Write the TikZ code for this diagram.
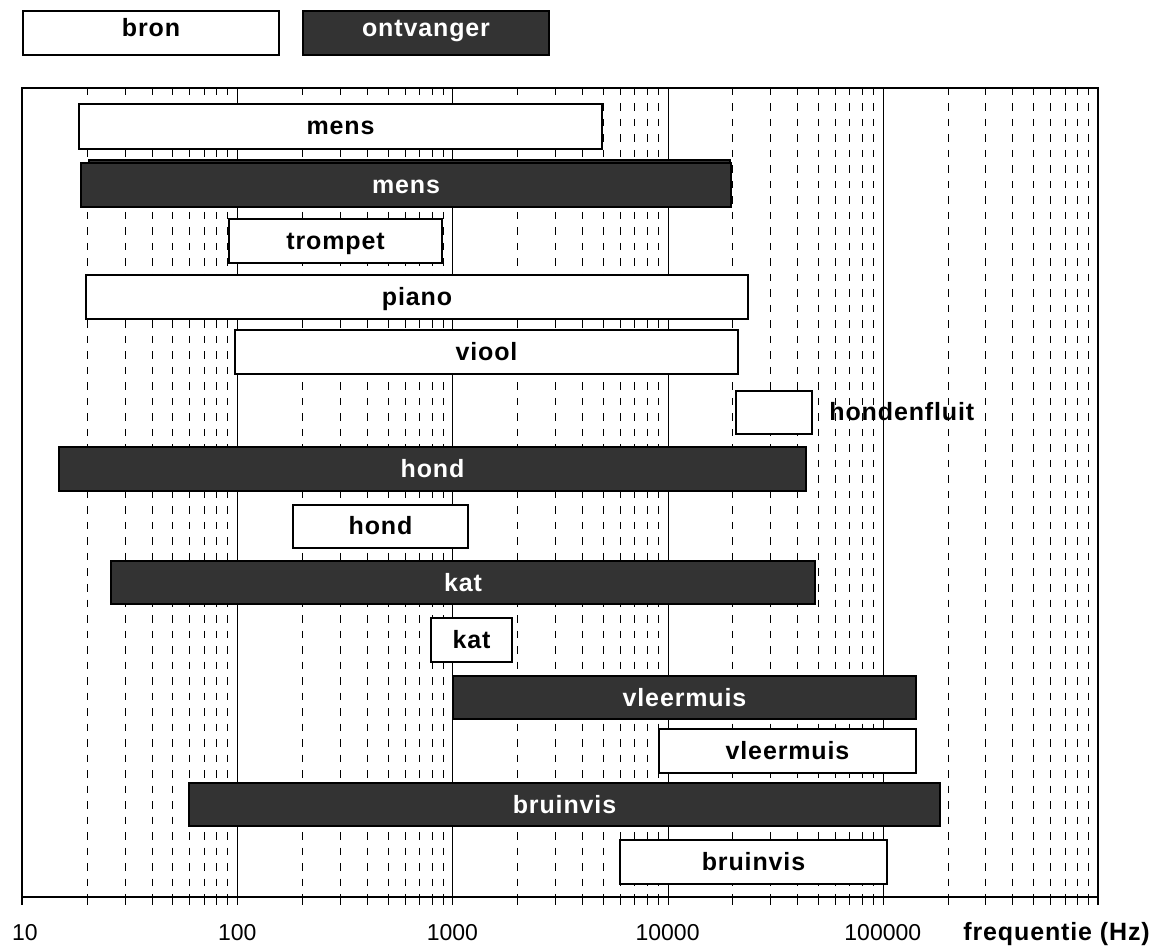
\documentclass[tikz,border=0pt]{standalone}
\usepackage{fontspec}
\setmainfont{Liberation Sans}
\newfontfamily\lblfont{Liberation Sans}[LetterSpace=3.5]
\definecolor{darkbar}{HTML}{333333}
\begin{document}
\begin{tikzpicture}[x=0.5pt,y=-0.5pt,
  bronbar/.style={draw=black,line width=0.65pt,fill=white},
  ontbar/.style={draw=black,line width=0.8pt,fill=darkbar},
  lbl/.style={font=\fontsize{12.5}{14}\lblfont\bfseries,anchor=base,inner sep=0pt},
  wlbl/.style={lbl,text=white},
  axlbl/.style={font=\fontsize{11.5}{13}\selectfont,anchor=base,inner sep=0pt},
  gridline/.style={line width=0.6pt,dash pattern=on 3.75pt off 4pt},
  decline/.style={line width=0.5pt},
  tickline/.style={line width=0.6pt},
  frameline/.style={line width=1pt}]
\useasboundingbox (0,0) rectangle (1158,952);
% grid
\foreach \d in {0,...,4} {
  \foreach \k in {2,...,9} {
    \pgfmathsetmacro\xx{round(22+215.2*(\d+log10(\k)))+0.5}
    \draw[gridline] (\xx,88) -- (\xx,897);
    \draw[tickline] (\xx,897) -- (\xx,905);
  }
}
\foreach \d in {1,...,4} {
  \pgfmathsetmacro\xx{round(22+215.2*\d)+0.5}
  \draw[decline] (\xx,88) -- (\xx,905);
}
\draw[tickline] (22,897) -- (22,905);
\draw[tickline] (1098,897) -- (1098,905);
% legend
\draw[bronbar,line width=0.6pt] (23,11) rectangle (279,55);
\node[lbl] (legbron) at (151,37) {bron};
\draw[ontbar,line width=0.6pt] (303,11) rectangle (549,55);
\node[wlbl] (legont) at (426,37) {ontvanger};
% bars
\draw[bronbar] (79,104) rectangle (602,149);
\node[lbl] (mensB) at (340.5,135) {mens};
\draw[ontbar,line width=0.6pt] (89,160) rectangle (730,204);
\draw[ontbar] (81,163) rectangle (731,207);
\node[wlbl] (mensO) at (406,193.5) {mens};
\draw[bronbar] (229,219) rectangle (442,263);
\node[lbl] (trompet) at (335.5,249.5) {trompet};
\draw[bronbar] (86,275) rectangle (748,319);
\node[lbl] (piano) at (417,305.5) {piano};
\draw[bronbar] (235,330) rectangle (738,374);
\node[lbl] (viool) at (486.5,360.5) {viool};
\draw[bronbar] (736,391) rectangle (812,434);
\node[lbl,anchor=base west] (fluit) at (829,421) {hondenfluit};
\draw[ontbar] (59,447) rectangle (806,491);
\node[wlbl] (hondO) at (432.5,477.5) {hond};
\draw[bronbar] (293,505) rectangle (468,548);
\node[lbl] (hondB) at (380.5,535) {hond};
\draw[ontbar] (111,561) rectangle (815,604);
\node[wlbl] (katO) at (463,591) {kat};
\draw[bronbar] (431,618) rectangle (512,662);
\node[lbl] (katB) at (471.5,648.5) {kat};
\draw[ontbar] (453,676) rectangle (916,719);
\node[wlbl] (vleerO) at (684.5,706) {vleermuis};
\draw[bronbar] (659,729) rectangle (916,773);
\node[lbl] (vleerB) at (787.5,759.5) {vleermuis};
\draw[ontbar] (189,783) rectangle (940,826);
\node[wlbl] (bruinO) at (564.5,813) {bruinvis};
\draw[bronbar] (620,840) rectangle (887,884);
\node[lbl] (bruinB) at (753.5,870.5) {bruinvis};
% frame
\draw[frameline] (22,88) rectangle (1098,897);
% axis labels
\node[axlbl] (l10) at (25,940) {10};
\node[axlbl] (l100) at (237.2,940) {100};
\node[axlbl] (l1000) at (452.4,940) {1000};
\node[axlbl] (l10000) at (667.6,940) {10000};
\node[axlbl] (l100000) at (882.8,940) {100000};
\node[lbl,anchor=base west] (freq) at (963,940) {frequentie (Hz)};
\end{tikzpicture}
\end{document}
